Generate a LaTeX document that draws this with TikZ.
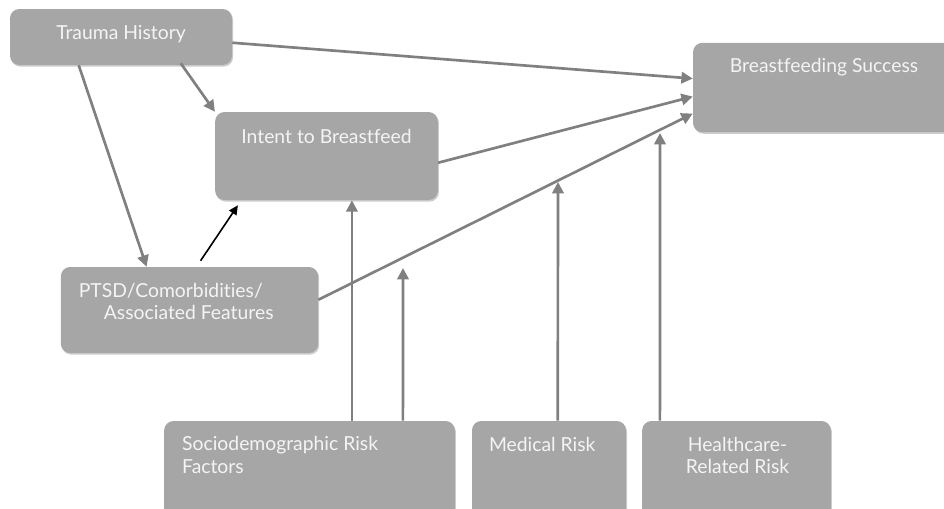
\documentclass[tikz,border=0pt]{standalone}
\usepackage{fontspec}
\setmainfont{Lato}[Ligatures=NoCommon]
\usetikzlibrary{arrows.meta,shadows,calc}
\definecolor{boxgray}{HTML}{A6A6A6}
\definecolor{linegray}{HTML}{808080}
\definecolor{txt}{HTML}{F4F4F4}
\begin{document}
\begin{tikzpicture}[x=0.75pt,y=-0.75pt,
  box/.style={draw=none,fill=boxgray,rounded corners=7pt,inner sep=0pt,
    drop shadow={shadow xshift=0.8pt,shadow yshift=-1.2pt,opacity=0.2,fill=black}},
  lbl/.style={text=txt,font=\fontsize{14.5}{16.5}\selectfont,inner sep=0pt},
  garrow/.style={draw=linegray,line width=2pt,-{Triangle[length=8.5pt,width=8.5pt]}},
  barrow/.style={draw=black,line width=1.2pt,-{Triangle[length=7pt,width=6.5pt]}}]
\useasboundingbox (0,0) rectangle (944,508);
\clip (0,0) rectangle (944,508);
% boxes
\node[box,minimum width=166.5pt,minimum height=42pt] (th) at (121,37) {};
\node[box,minimum width=167pt,minimum height=66pt] (it) at (326.5,156) {};
\node[box,minimum width=196.5pt,minimum height=67pt] (bs) at (824,87.5) {};
\node[box,minimum width=193pt,minimum height=64.5pt] (pt) at (189.5,310) {};
\node[box,minimum width=218pt,minimum height=75pt] (so) at (309.5,471) {};
\node[box,minimum width=115.5pt,minimum height=75pt] (me) at (549,471) {};
\node[box,minimum width=141.5pt,minimum height=75pt] (hc) at (736.5,471) {};
% texts
\node[lbl] (tht) at ($(th.north)+(0,25)$) {Trauma History};
\node[lbl] (itt) at ($(it.north)+(0,25)$) {Intent to Breastfeed};
\node[lbl] (bst) at ($(bs.north)+(0,25)$) {Breastfeeding Success};
\node[lbl,anchor=west] (pt1) at ($(pt.north west)+(18,24)$) {PTSD/Comorbidities/};
\node[lbl,anchor=west] (pt2) at ($(pt.north west)+(43,46)$) {Associated Features};
\node[lbl,anchor=west] (so1) at ($(so.north west)+(18,24)$) {Sociodemographic Risk};
\node[lbl,anchor=west] (so2) at ($(so.north west)+(18,46)$) {Factors};
\node[lbl,anchor=west] (met) at ($(me.north west)+(17,24)$) {Medical Risk};
\node[lbl,align=center] (hct) at ($(hc.north)+(1,35)$) {Healthcare-\\Related Risk};
% free ends on the PTSD -> success line
\coordinate (m1) at (403,268);
\coordinate (m2) at (558,182);
\coordinate (m3) at (660,133);
% connectors
\draw[garrow] ($(th.north east)+(0,34)$) -- ($(bs.north west)+(0,36)$);
\draw[garrow] ($(th.south west)+(171,-2)$) -- ($(it.north west)+(0,0)$);
\draw[garrow] ($(th.south west)+(69,0)$) -- ($(pt.north west)+(86,0)$);
\draw[barrow] ($(pt.north west)+(140,-6)$) -- ($(it.south west)+(23,5)$);
\draw[garrow] ($(it.north east)+(0,51)$) -- ($(bs.north west)+(0,54)$);
\draw[garrow] ($(pt.north east)+(0,33)$) -- ($(bs.north west)+(0,71)$);
\draw[garrow] ($(so.north west)+(188,0)$) -- ($(it.south west)+(137,0)$);
\draw[garrow] ($(so.north west)+(239,0)$) -- (m1);
\draw[garrow] ($(me.north west)+(86,0)$) -- (m2);
\draw[garrow] ($(hc.north west)+(18,0)$) -- (m3);
\end{tikzpicture}
\end{document}
